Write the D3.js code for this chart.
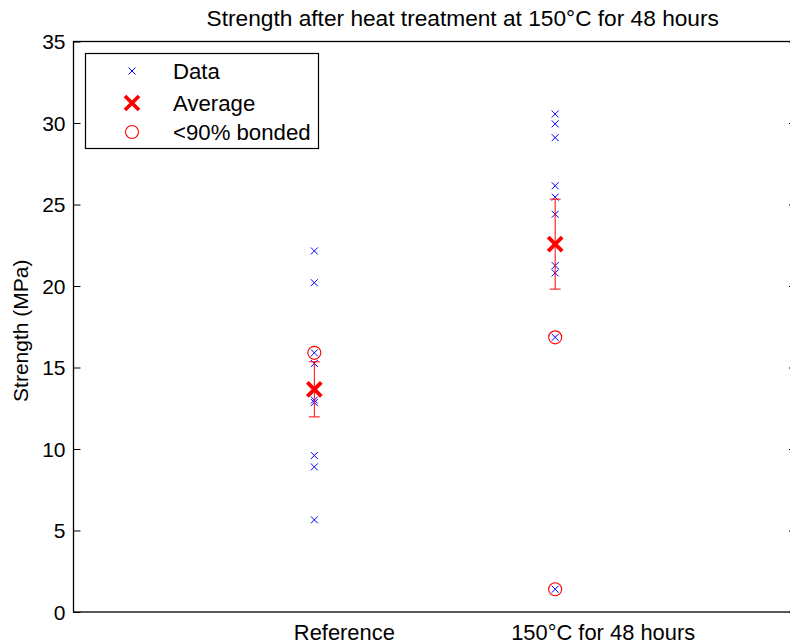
<!DOCTYPE html>
<html>
<head>
<meta charset="utf-8">
<script src="https://cdn.jsdelivr.net/npm/d3@7"></script>
<style>
  body { margin: 0; background: #fff; }
  svg { display: block; font-family: "Liberation Sans", Arial, sans-serif; }
</style>
</head>
<body>
<div id="chart"></div>
<script>
// categories on the x axis
var categories = ["Reference", "150\u00B0C for 48 hours"];

// individual measurements (MPa)
var refData = [22.15, 20.2, 15.9, 15.25, 13.0, 12.85, 9.6, 8.9, 5.65];
var heatData = [30.55, 29.95, 29.1, 26.15, 25.45, 24.4, 21.25, 20.8, 16.85, 1.4];

// points with <90% bonded area
var lowBondRef = [15.9];
var lowBondHeat = [16.85, 1.4];

// averages and error bar half lengths
var averages = [13.66, 22.57];
var errors = [1.69, 2.76];

var yTicks = [0, 5, 10, 15, 20, 25, 30, 35];

var width = 790, height = 644;
var margin = { top: 41.5, right: -6, bottom: 32, left: 73.5 };

var svg = d3.select("#chart").append("svg")
  .attr("width", width)
  .attr("height", height);

var x = d3.scaleLinear().domain([0, 3]).range([margin.left, width - margin.right]);
var y = d3.scaleLinear().domain([0, 35]).range([height - margin.bottom, margin.top]);

var FONT = 21;

// box around the plot
svg.append("rect")
  .attr("x", x(0)).attr("y", y(35))
  .attr("width", x(3) - x(0)).attr("height", y(0) - y(35))
  .attr("fill", "none").attr("stroke", "#000").attr("stroke-width", 1.3);

// y axis, ticks inward on both sides
var yAxisL = d3.axisRight(y).tickValues(yTicks).tickSize(7).tickFormat("");
svg.append("g").attr("transform", "translate(" + x(0) + ",0)").call(yAxisL)
  .call(function(g) { g.select(".domain").remove(); });
var yAxisR = d3.axisLeft(y).tickValues(yTicks).tickSize(7).tickFormat("");
svg.append("g").attr("transform", "translate(" + x(3) + ",0)").call(yAxisR)
  .call(function(g) { g.select(".domain").remove(); });

svg.selectAll(".ylab").data(yTicks).enter().append("text")
  .attr("class", "ylab")
  .attr("x", x(0) - 8)
  .attr("y", function(d) { return y(d); })
  .attr("dy", "0.36em")
  .attr("text-anchor", "end")
  .attr("font-size", FONT)
  .text(function(d) { return d; });

// category labels (they sit a bit right of the data columns in the original)
var labelShift = [30, 48];
svg.selectAll(".xlab").data(categories).enter().append("text")
  .attr("class", "xlab")
  .attr("x", function(d, i) { return x(i + 1) + labelShift[i]; })
  .attr("y", 639.5)
  .attr("text-anchor", "middle")
  .attr("font-size", 21.9)
  .text(function(d) { return d; });

// title and y label
svg.append("text")
  .attr("x", (x(0) + x(3)) / 2 + 28).attr("y", 26)
  .attr("text-anchor", "middle").attr("font-size", 22.7)
  .text("Strength after heat treatment at 150\u00B0C for 48 hours");

svg.append("text")
  .attr("transform", "translate(28," + ((y(0) + y(35)) / 2 + 4) + ") rotate(-90)")
  .attr("text-anchor", "middle").attr("font-size", FONT)
  .text("Strength (MPa)");

// marker helpers
function cross(g, cx, cy, r, color, w) {
  g.append("path")
    .attr("d", "M" + (cx - r) + "," + (cy - r) + "L" + (cx + r) + "," + (cy + r) +
               "M" + (cx - r) + "," + (cy + r) + "L" + (cx + r) + "," + (cy - r))
    .attr("stroke", color).attr("stroke-width", w).attr("fill", "none");
}
function ring(g, cx, cy) {
  g.append("circle").attr("cx", cx).attr("cy", cy).attr("r", 6.5)
    .attr("fill", "none").attr("stroke", "#ff0000").attr("stroke-width", 1.1);
}

var marks = svg.append("g");

// data points
[refData, heatData].forEach(function(series, i) {
  series.forEach(function(v) {
    cross(marks, x(i + 1), y(v), 3.5, "#0000ff", 1);
  });
});

// error bars and averages
averages.forEach(function(m, i) {
  var cx = x(i + 1);
  var top = y(m + errors[i]), bot = y(m - errors[i]);
  marks.append("path")
    .attr("d", "M" + cx + "," + top + "L" + cx + "," + bot +
               "M" + (cx - 5.5) + "," + top + "L" + (cx + 5.5) + "," + top +
               "M" + (cx - 5.5) + "," + bot + "L" + (cx + 5.5) + "," + bot)
    .attr("stroke", "#ff0000").attr("stroke-width", 1).attr("fill", "none");
  cross(marks, cx, y(m), 7, "#ff0000", 3.8);
});

// <90% bonded circles
[lowBondRef, lowBondHeat].forEach(function(series, i) {
  series.forEach(function(v) { ring(marks, x(i + 1), y(v)); });
});

// legend
var leg = svg.append("g");
leg.append("rect")
  .attr("x", 85.5).attr("y", 53.5).attr("width", 233).attr("height", 95)
  .attr("fill", "#fff").attr("stroke", "#000").attr("stroke-width", 1.2);
var legItems = ["Data", "Average", "<90% bonded"];
var legY = [71, 103, 132];
cross(leg, 132, legY[0], 3.5, "#0000ff", 1);
cross(leg, 132, legY[1], 7, "#ff0000", 3.8);
ring(leg, 132, legY[2]);
legItems.forEach(function(t, i) {
  leg.append("text")
    .attr("x", 173).attr("y", legY[i]).attr("dy", "0.36em")
    .attr("font-size", 22.2)
    .text(t);
});
</script>
</body>
</html>
